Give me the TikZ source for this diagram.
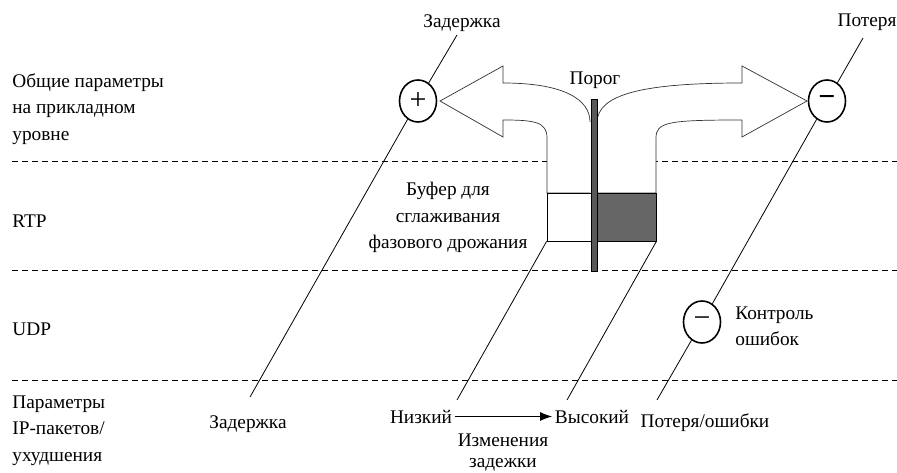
\documentclass[tikz,border=0pt]{standalone}
\usepackage{fontspec}
\setmainfont{Liberation Serif}
\usetikzlibrary{shapes.geometric,arrows.meta}

\begin{document}
\begin{tikzpicture}[
  x=1pt, y=-1pt, line width=0.8pt,
  layer/.style={align=left,inner sep=0pt,font=\fontsize{19.3}{26.5}\selectfont},
  lbl/.style={align=center,inner sep=2.5pt,font=\fontsize{19.3}{26.5}\selectfont},
  sign/.style={ellipse,draw,fill=white,line width=1.6pt,minimum width=37pt,minimum height=42pt,inner sep=0pt,font=\fontsize{30}{30}\selectfont},
  sep/.style={dash pattern=on 6pt off 4pt,line width=1pt},
  flow/.style={draw=black!80,line width=0.7pt,fill=white},
  buf/.style={draw,line width=0.8pt,inner sep=0pt},
  baseline=(current bounding box.north)
]
  \useasboundingbox (0,0) rectangle (897,473);
  % layer borders
  \draw[sep] (12,162) -- (897,162);
  \draw[sep] (12,270) -- (897,270);
  \draw[sep] (12,380) -- (897,380);
  % layer names
  \node[layer,anchor=north west] (app) at (12,73) {Общие параметры\\на прикладном\\уровне};
  \node[layer,anchor=base west] (rtp) at (12,228) {RTP};
  \node[layer,anchor=base west] (udp) at (12,335) {UDP};
  \node[layer,anchor=north west] (ip) at (12,395) {Параметры\\IP-пакетов/\\ухудшения};
  % the two big arrows out of the buffer
  \draw[flow] (590,193) -- (547,193) -- (547,138) .. controls (547,122) and (535,120) .. (503,120)
    -- (503,137) -- (440,101) -- (503,66) -- (503,83) .. controls (565,83) and (590,100) .. (590,122);
  \draw[flow] (597,193) -- (656,193) -- (656,138) .. controls (656,122) and (668,120) .. (742,120)
    -- (742,137) -- (807,101) -- (742,66) -- (742,83) .. controls (640,83) and (598,95) .. (597,122);
  % buffer and threshold
  \node[buf,fill=white,minimum width=44pt,minimum height=48pt] (lowbuf) at (569,217) {};
  \node[buf,fill=black!60,minimum width=59pt,minimum height=48pt] (highbuf) at (626.5,217) {};
  \node[draw,fill=black!65,line width=0.6pt,inner sep=0pt,minimum width=6pt,minimum height=172pt] (thr) at (594,185) {};
  \node[lbl,anchor=base] (thrlbl) at (595,85) {Порог};
  \node[lbl,anchor=north,inner sep=0pt] (buflbl) at (448,182) {Буфер для\\сглаживания\\фазового дрожания};
  % signs
  \node[sign] (plus) at (418,101) {+};
  \node[sign] (loss) at (827,101) {\textbf{−}};
  \node[sign] (ctrl) at (702,322) {−};
  \node[layer,anchor=north west] (ctrllbl) at (735,306) {Контроль\\ошибок};
  % labels
  \node[lbl,anchor=base] (zd1) at (462,28) {Задержка};
  \node[lbl,anchor=base] (zd2) at (248,428) {Задержка};
  \node[lbl,anchor=base] (ls1) at (867,27) {Потеря};
  \node[lbl,anchor=base] (ls2) at (705,427) {Потеря/ошибки};
  \node[lbl,anchor=base] (low) at (421,423) {Низкий};
  \node[lbl,anchor=base] (high) at (592,423) {Высокий};
  \node[lbl,anchor=north,inner sep=0pt,font=\fontsize{19.3}{21}\selectfont] (chg) at (503,433) {Изменения\\задежки};
  % connectors
  \coordinate (d1) at (457,35);
  \coordinate (d2) at (250,397);
  \coordinate (l1) at (863,38);
  \coordinate (l2) at (657,400);
  \coordinate (b1) at (457,400);
  \coordinate (b2) at (567,400);
  \draw (d1) -- (plus) -- (d2);
  \draw (l1) -- (loss) -- (ctrl) -- (l2);
  \draw (lowbuf.south west) -- (b1);
  \draw (highbuf.south east) -- (b2);
  \draw[-{Latex[length=12pt,width=9pt]}] (low) -- (high);
\end{tikzpicture}
\end{document}
